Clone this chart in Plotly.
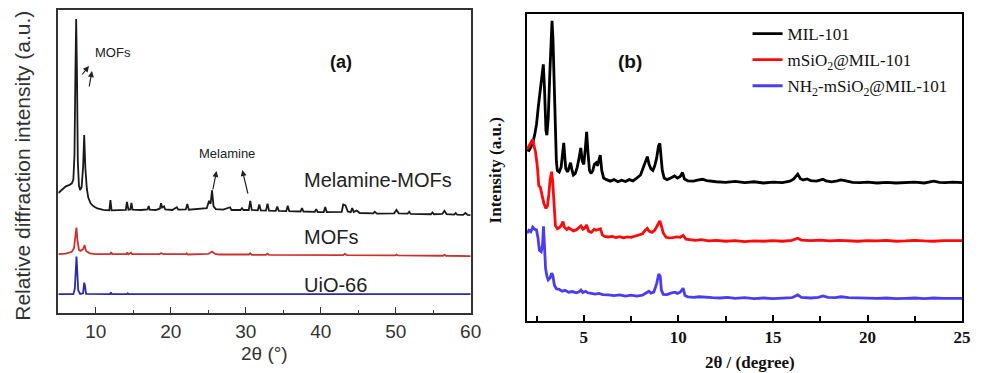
import plotly.graph_objects as go

# ---------------- Panel (a) data ----------------
a_black_x = [5.0, 5.5, 6.0, 6.5, 6.8, 7.0, 7.15, 7.28, 7.38, 7.48, 7.6, 7.75, 7.9, 8.1, 8.3, 8.45, 8.6, 8.8, 9.0, 9.3, 9.7, 10.2, 11.0,
             11.8, 11.95, 12.1, 13.0, 14.0, 14.15, 14.35, 14.6, 14.75, 14.9, 16.0, 16.9, 17.05, 17.2, 18.0, 18.55, 18.7, 18.85, 19.1, 19.25,
             20.2, 20.8, 21.0, 22.0, 22.2, 22.4, 24.0, 24.8, 25.1, 25.3, 25.5, 25.7, 26.0, 27.0, 27.9, 28.1, 29.3, 29.5, 29.7, 30.4, 30.6, 30.8,
             31.6, 31.8, 32.0, 32.7, 32.9, 33.1, 34.0, 34.2, 34.4, 35.4, 35.6, 35.8, 37.3, 37.5, 37.7, 39.2, 39.4, 39.6, 40.4, 40.6, 40.8,
             42.8, 43.0, 43.3, 43.6, 44.0, 44.2, 44.4, 44.8, 45.2, 47.0, 47.2, 47.5, 49.8, 50.1, 50.4, 51.6, 51.8, 52.0, 54.7, 54.9, 55.1,
             56.2, 56.5, 56.8, 57.8, 58.0, 58.2, 59.0, 59.3, 59.6, 60.0]
a_black_y = [39.6, 40.8, 41.8, 42.3, 42.8, 44.0, 52.0, 80.0, 97.0, 80.0, 50.0, 42.0, 40.6, 41.5, 48.0, 58.7, 48.0, 41.0, 38.0, 36.2, 35.2, 34.5, 34.0,
             33.9, 37.3, 33.9, 33.9, 34.0, 36.7, 34.1, 34.2, 36.3, 34.1, 34.0, 34.2, 35.3, 34.1, 34.0, 34.5, 36.2, 34.8, 35.2, 34.2,
             34.0, 34.9, 34.1, 34.2, 36.0, 34.1, 34.3, 34.6, 37.0, 36.0, 40.5, 35.2, 34.3, 34.1, 34.9, 34.0, 34.0, 34.6, 34.0, 34.0, 37.0, 34.0,
             33.9, 35.8, 33.9, 33.8, 36.1, 33.8, 33.7, 35.1, 33.7, 33.6, 35.4, 33.6, 33.5, 34.6, 33.5, 33.4, 34.3, 33.3, 33.3, 35.0, 33.3,
             33.4, 35.8, 35.5, 33.5, 33.3, 34.6, 33.3, 33.8, 33.0, 32.9, 33.4, 32.8, 32.9, 34.0, 32.9, 32.8, 33.4, 32.7, 32.6, 33.2, 32.6,
             32.7, 33.7, 32.6, 32.5, 33.0, 32.5, 32.4, 33.0, 32.4, 32.3]

a_red_x = [5.0, 6.0, 6.8, 7.1, 7.3, 7.42, 7.55, 7.75, 7.95, 8.3, 8.5, 8.7, 9.2, 10.0, 11.9, 12.05, 12.2, 14.1, 14.2, 14.35, 14.7, 14.85,
           18.5, 18.7, 19.0, 22.0, 22.1, 22.3, 25.0, 25.5, 25.9, 26.5, 30.4, 30.6, 30.8, 32.7, 32.9, 33.1, 43.0, 43.2, 43.5, 49.9, 50.1, 50.3,
           56.3, 56.5, 56.7, 60.0]
a_red_y = [19.4, 19.6, 20.2, 21.5, 26.0, 28.2, 24.0, 20.8, 20.5, 21.0, 22.4, 20.5, 19.7, 19.4, 19.4, 20.1, 19.4, 19.4, 20.0, 19.4, 19.9, 19.4,
           19.4, 19.8, 19.4, 19.4, 19.7, 19.3, 19.5, 20.3, 19.5, 19.3, 19.3, 19.7, 19.2, 19.2, 19.6, 19.2, 19.1, 19.5, 19.1, 19.0, 19.3, 19.0,
           18.9, 19.2, 18.9, 18.8]

a_blue_x = [5.0, 7.0, 7.2, 7.32, 7.42, 7.52, 7.65, 7.9, 8.3, 8.45, 8.55, 8.7, 11.9, 12.0, 12.15, 14.15, 14.25, 14.4, 60.0]
a_blue_y = [6.2, 6.2, 8.0, 15.0, 18.6, 14.0, 7.5, 6.3, 6.5, 10.0, 9.0, 6.3, 6.2, 6.8, 6.2, 6.2, 6.5, 6.2, 6.2]

a_labels = ["Melamine-MOFs", "MOFs", "UiO-66"]
a_tickvals = [10, 20, 30, 40, 50, 60]

# ---------------- Panel (b) data ----------------
b_black_x = [2.0, 2.1, 2.2, 2.3, 2.4, 2.5, 2.6, 2.7, 2.8, 2.86, 2.92, 3.0, 3.05, 3.12, 3.2, 3.27, 3.32, 3.37, 3.42, 3.46, 3.5, 3.55,
             3.6, 3.7, 3.8, 3.88, 3.94, 4.0, 4.05, 4.15, 4.22, 4.3, 4.38, 4.45, 4.55, 4.65, 4.75, 4.84, 4.92, 5.0, 5.08, 5.15, 5.22,
             5.3, 5.38, 5.48, 5.56, 5.65, 5.72, 5.8, 5.87, 5.95, 6.05, 6.2, 6.4, 6.6, 6.8, 7.0, 7.2, 7.4, 7.6, 7.8, 8.0, 8.15, 8.3,
             8.36, 8.45, 8.55, 8.65, 8.75, 8.85, 8.95, 9.02, 9.08, 9.15, 9.25, 9.4, 9.6, 9.8, 9.95, 10.1, 10.22, 10.32, 10.5, 10.8,
             11.0, 11.28, 11.5, 11.8, 12.0, 12.5, 13.0, 13.5, 14.0, 14.5, 15.0, 15.5, 15.9, 16.1, 16.31, 16.45, 16.6, 16.8, 17.0,
             17.3, 17.64, 17.8, 18.1, 18.4, 18.58, 18.8, 19.2, 19.6, 20.0, 20.5, 21.0, 21.5, 22.0, 22.5, 23.0, 23.5, 23.8, 24.1,
             24.5, 25.0]
b_black_y = [55.7, 55.5, 56.5, 58.0, 60.5, 64.0, 70.0, 76.0, 82.0, 83.6, 76.0, 62.0, 60.5, 66.0, 80.0, 93.0, 97.8, 92.0, 78.0, 70.0, 60.0, 52.0,
             49.0, 48.5, 50.0, 55.0, 58.0, 53.0, 49.5, 48.5, 50.0, 51.5, 49.0, 47.5, 48.0, 50.0, 53.0, 56.3, 52.0, 51.0, 56.0, 61.6, 55.0,
             49.0, 48.0, 49.0, 51.0, 51.5, 50.5, 52.0, 54.0, 49.0, 46.5, 46.0, 45.5, 46.0, 45.3, 45.8, 45.4, 46.0, 45.6, 46.5, 47.5, 50.0, 53.0,
             53.5, 51.0, 49.5, 49.0, 50.5, 53.0, 57.0, 57.8, 54.0, 49.0, 46.5, 46.0, 46.5, 47.2, 46.5, 47.0, 48.3, 46.2, 45.6, 45.5,
             45.8, 46.1, 45.7, 45.4, 45.3, 45.1, 45.4, 45.0, 45.3, 44.9, 45.2, 45.0, 45.5, 46.2, 47.8, 46.3, 45.9, 46.2, 45.7,
             45.5, 46.1, 45.6, 45.3, 45.6, 45.9, 45.7, 45.1, 45.0, 45.2, 44.9, 45.1, 44.9, 45.0, 45.2, 44.9, 45.5, 45.1, 45.0,
             45.2, 45.0]

b_red_x = [2.0, 2.1, 2.2, 2.3, 2.35, 2.45, 2.55, 2.62, 2.7, 2.8, 2.9, 3.0, 3.08, 3.15, 3.22, 3.3, 3.36, 3.43, 3.5, 3.6, 3.7, 3.8,
           3.9, 3.97, 4.1, 4.2, 4.3, 4.45, 4.6, 4.75, 4.85, 4.95, 5.05, 5.15, 5.25, 5.4, 5.55, 5.65, 5.75, 5.88, 5.98, 6.1, 6.3,
           6.5, 6.7, 6.9, 7.1, 7.3, 7.5, 7.7, 7.9, 8.1, 8.25, 8.36, 8.45, 8.6, 8.75, 8.9, 9.02, 9.1, 9.2, 9.35, 9.5, 9.7, 9.9, 10.1,
           10.25, 10.4, 10.6, 10.9, 11.2, 11.6, 12.0, 12.5, 13.0, 13.5, 14.0, 14.5, 15.0, 15.5, 16.0, 16.31, 16.5, 17.0, 17.5,
           18.0, 18.5, 19.0, 19.5, 20.0, 20.5, 21.0, 21.5, 22.0, 22.5, 23.0, 23.5, 24.0, 24.5, 25.0]
b_red_y = [55.9, 57.0, 58.0, 59.1, 57.5, 55.0, 50.0, 44.0, 43.5, 41.0, 38.0, 36.6, 37.5, 41.0, 46.0, 48.6, 45.0, 38.0, 31.0, 30.0, 30.3, 31.0,
           32.3, 30.5, 29.7, 30.3, 29.8, 29.3, 29.6, 30.3, 30.9, 29.8, 30.2, 31.2, 29.2, 28.8, 29.8, 29.5, 29.8, 30.0, 28.0, 27.5, 27.3,
           27.5, 27.1, 27.4, 27.0, 27.3, 27.2, 27.5, 27.8, 28.3, 29.5, 30.1, 29.2, 28.8, 29.5, 31.3, 32.5, 31.0, 28.6, 27.2, 27.0, 27.1, 27.3, 27.2,
           27.8, 26.6, 26.4, 26.2, 26.4, 26.0, 26.2, 25.9, 26.1, 25.8, 26.0, 25.9, 26.1, 25.9, 26.2, 26.9, 26.3, 26.1, 26.3,
           26.0, 26.2, 26.1, 25.9, 26.1, 26.0, 26.2, 25.9, 26.0, 26.2, 26.0, 25.9, 26.1, 26.0, 26.1]

b_blue_x = [2.0, 2.1, 2.2, 2.3, 2.4, 2.5, 2.58, 2.65, 2.75, 2.82, 2.87, 2.92, 2.98, 3.05, 3.12, 3.22, 3.3, 3.36, 3.45, 3.55, 3.7,
            3.85, 4.0, 4.2, 4.4, 4.6, 4.75, 4.85, 4.95, 5.1, 5.2, 5.4, 5.6, 5.8, 6.0, 6.3, 6.6, 6.9, 7.2, 7.5, 7.8, 8.1, 8.3,
            8.44, 8.55, 8.7, 8.85, 8.96, 9.04, 9.1, 9.2, 9.4, 9.6, 9.8, 9.95, 10.1, 10.25, 10.35, 10.5, 10.8, 11.1, 11.4, 11.8,
            12.2, 12.6, 13.0, 13.5, 14.0, 14.5, 15.0, 15.5, 16.0, 16.31, 16.5, 17.0, 17.4, 17.64, 17.9, 18.3, 18.6, 19.0, 19.5,
            20.0, 20.5, 21.0, 21.5, 22.0, 22.5, 23.0, 23.5, 24.0, 24.5, 25.0]
b_blue_y = [28.5, 29.5, 29.0, 30.5, 29.8, 29.6, 27.0, 23.0, 22.5, 25.0, 30.8, 24.0, 17.0, 14.5, 13.3, 14.0, 15.5, 14.8, 11.5, 10.4, 10.2,
            9.6, 9.9, 9.3, 9.5, 9.1, 9.4, 10.0, 9.2, 9.6, 9.1, 8.9, 8.7, 8.9, 8.5, 8.4, 8.2, 8.4, 8.0, 8.3, 8.0, 8.3, 9.0,
            9.6, 9.0, 9.3, 12.0, 15.2, 14.5, 10.0, 8.6, 8.5, 9.0, 9.3, 8.9, 9.3, 10.6, 8.2, 7.8, 7.6, 7.8, 7.6, 7.5,
            7.4, 7.6, 7.3, 7.5, 7.2, 7.4, 7.2, 7.3, 7.5, 8.4, 7.6, 7.4, 7.6, 8.1, 7.6, 7.5, 7.8, 7.5, 7.4,
            7.5, 7.3, 7.4, 7.2, 7.3, 7.4, 7.2, 7.4, 7.3, 7.2, 7.3]

b_names = ["MIL-101", "mSiO<sub>2</sub>@MIL-101", "NH<sub>2</sub>-mSiO<sub>2</sub>@MIL-101"]
b_tickvals = [5, 10, 15, 20, 25]

W, H = 984, 373
SANS = "Liberation Sans, Arial, sans-serif"
SERIF = "Liberation Serif, Times New Roman, serif"

fig = go.Figure()

# panel (a)
for xs, ys, col in [(a_black_x, a_black_y, "#1a1a1a"), (a_red_x, a_red_y, "#d0302c"), (a_blue_x, a_blue_y, "#2a2ab0")]:
    fig.add_trace(go.Scatter(x=xs, y=ys, mode="lines", line=dict(color=col, width=1.8),
                             showlegend=False, xaxis="x", yaxis="y", hoverinfo="skip"))

# panel (b)
for i, (xs, ys, col) in enumerate([(b_black_x, b_black_y, "#000000"), (b_red_x, b_red_y, "#ff0a0a"), (b_blue_x, b_blue_y, "#4b3cf2")]):
    fig.add_trace(go.Scatter(x=xs, y=ys, mode="lines", line=dict(color=col, width=2.8),
                             name=b_names[i], legendgroup=f"g{i}", showlegend=True,
                             xaxis="x2", yaxis="y2", hoverinfo="skip"))

fig.update_layout(
    width=W, height=H, autosize=False,
    margin=dict(l=0, r=0, t=0, b=0),
    paper_bgcolor="white", plot_bgcolor="white",
    xaxis=dict(domain=[59 / W, 476 / W], range=[5, 60], tickmode="array", tickvals=a_tickvals,
               ticks="inside", ticklen=6, tickwidth=1.3, tickcolor="#333",
               minor=dict(tickmode="array", tickvals=[15, 25, 35, 45, 55], ticks="inside", ticklen=3, tickcolor="#333"),
               showline=True, linecolor="#333", linewidth=1.5, mirror=True, showgrid=False, zeroline=False,
               tickfont=dict(family=SANS, size=19, color="#333"), ticklabelstandoff=0),
    yaxis=dict(domain=[(H - 313) / H, (H - 10) / H], range=[0, 100], showticklabels=False, ticks="",
               showline=True, linecolor="#333", linewidth=1.5, mirror=True, showgrid=False, zeroline=False),
    xaxis2=dict(domain=[533 / W, 973 / W], range=[2, 25], anchor="y2", tickmode="array", tickvals=b_tickvals,
                ticks="inside", ticklen=6, tickwidth=1.5, tickcolor="#000",
                minor=dict(tickmode="array", tickvals=[2.5, 7.5, 12.5, 17.5, 22.5], ticks="inside", ticklen=5, tickcolor="#000"),
                showline=True, linecolor="#000", linewidth=2, mirror=True, showgrid=False, zeroline=False,
                tickfont=dict(family=SERIF, size=17, color="#111", weight="bold"), ticklabelstandoff=0),
    yaxis2=dict(domain=[(H - 320.7) / H, (H - 14) / H], range=[0, 100], anchor="x2", showticklabels=False, ticks="",
                showline=True, linecolor="#000", linewidth=2, mirror=True, showgrid=False, zeroline=False),
    legend=dict(x=756 / W, y=1 - 16 / H, xanchor="left", yanchor="top", bgcolor="rgba(0,0,0,0)",
                font=dict(family=SERIF, size=17, color="#111"), tracegroupgap=1, itemwidth=30),
)

ann = []
# panel (a) texts
ann.append(dict(x=267, y=H - 353, text="2θ (°)", font=dict(family=SANS, size=19, color="#333")))
ann.append(dict(x=22, y=H - 166, text="Relative diffraction intensity (a.u.)", textangle=-90,
                font=dict(family=SANS, size=21, color="#333")))
ann.append(dict(x=345, y=H - 62, text="<b>(a)</b>", font=dict(family=SANS, size=18, color="#111")))
ann.append(dict(x=114, y=H - 53, text="MOFs", font=dict(family=SANS, size=13, color="#222")))
ann.append(dict(x=230, y=H - 153, text="Melamine", font=dict(family=SANS, size=13, color="#222")))
for lab, ypx in zip(a_labels, [180, 237, 285]):
    ann.append(dict(x=305, y=H - ypx, text=lab, xanchor="left", font=dict(family=SANS, size=20, color="#222")))
# panel (b) texts
ann.append(dict(x=758, y=H - 362, text="<b>2θ / (degree)</b>", font=dict(family=SERIF, size=17, color="#111")))
ann.append(dict(x=501, y=H - 170, text="<b>Intensity (a.u.)</b>", textangle=-90, font=dict(family=SERIF, size=17, color="#111")))
ann.append(dict(x=637, y=H - 61, text="<b>(b)</b>", font=dict(family=SANS, size=19, color="#111")))

for a in ann:
    a.update(xref="paper", yref="paper", showarrow=False, xanchor=a.get("xanchor", "center"), yanchor="middle")
    a["x"] = a["x"] / W
    a["y"] = a["y"] / H

# arrows (tail -> head, in pixels)
arrows = [((82, 76), (90, 66)), ((90, 88), (93, 71)), ((215, 191), (219, 171)), ((251, 195), (245, 170))]
for (tx, ty), (hx, hy) in arrows:
    ann.append(dict(x=hx / W, y=(H - hy) / H, ax=tx - hx, ay=ty - hy, xref="paper", yref="paper",
                    axref="pixel", ayref="pixel", text="", showarrow=True, arrowhead=2, arrowsize=1,
                    arrowwidth=1.2, arrowcolor="#222"))

fig.update_layout(annotations=ann)

page_js = (
    "var d=document.getElementById('{plot_id}');"
    "d.style.position='fixed';d.style.left='0px';d.style.top='0px';"
    "document.documentElement.style.margin='0px';document.documentElement.style.padding='0px';"
    "document.documentElement.style.overflow='hidden';"
    "document.body.style.margin='0px';document.body.style.padding='0px';document.body.style.overflow='hidden';"
)
fig.write_html("out.html", config={"displayModeBar": False, "responsive": False}, post_script=page_js)
